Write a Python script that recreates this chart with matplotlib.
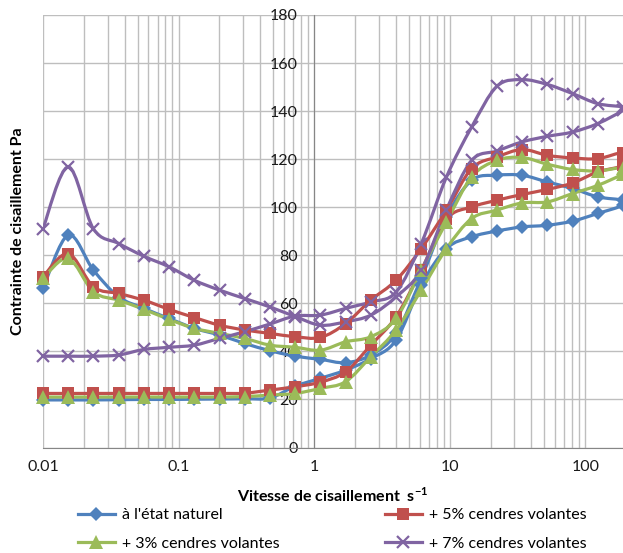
import numpy as np
import matplotlib
matplotlib.use('Agg')
import matplotlib.pyplot as plt
from matplotlib.path import Path
from matplotlib.patches import PathPatch
from matplotlib.lines import Line2D
from matplotlib.ticker import LogLocator, NullFormatter

plt.rcParams['font.family'] = ['Lato', 'DejaVu Sans']

# shear rates (s-1), same for the rising and falling branch
shear = [0.01, 0.01535, 0.02355, 0.03614, 0.05546, 0.0851, 0.1306, 0.2004,
         0.3076, 0.472, 0.7244, 1.112, 1.706, 2.618, 4.018, 6.166, 9.462,
         14.52, 22.28, 34.2, 52.48, 80.54, 123.6, 189.7]

# each series is a loop: branch a (left start high) then branch b (left start low)
blue_a = [66.2, 88.4, 73.8, 62.7, 57.9, 53.7, 49.6, 46.8, 43.3, 40.3, 38.0, 36.7,
          35.3, 38.5, 47.5, 70.4, 96.0, 111.2, 113.3, 113.3, 110.5, 107.8, 104.3, 102.9]
blue_b = [19.8, 19.8, 19.8, 19.9, 20.0, 20.0, 20.1, 20.2, 20.3, 20.6, 25.5, 28.8,
          32.2, 37.0, 44.7, 67.6, 82.8, 87.7, 90.1, 91.8, 92.5, 94.2, 97.4, 100.8]

red_a = [71.0, 80.7, 66.9, 64.1, 61.3, 57.5, 54.1, 50.9, 48.9, 47.5, 46.1, 45.8,
         51.6, 61.3, 69.6, 82.8, 98.8, 116.1, 120.9, 124.0, 121.6, 120.5, 120.2, 122.6]
red_b = [22.5, 22.5, 22.5, 22.5, 22.5, 22.5, 22.5, 22.5, 22.6, 23.9, 25.3, 27.2,
         31.5, 42.6, 54.4, 73.8, 95.0, 100.1, 102.9, 105.3, 107.4, 110.1, 114.7, 117.5]

green_a = [70.4, 78.7, 64.8, 61.3, 57.5, 53.3, 49.6, 47.5, 45.4, 42.6, 41.7, 40.5,
           44.0, 46.1, 53.7, 73.8, 93.9, 112.6, 119.5, 120.7, 117.9, 115.7, 115.1, 116.5]
green_b = [21.0, 21.0, 21.0, 21.0, 21.0, 21.0, 21.0, 21.0, 21.2, 21.8, 22.5, 24.6,
           27.4, 37.8, 48.9, 65.5, 82.8, 95.3, 98.8, 101.8, 102.2, 105.7, 109.1, 114.0]

purple_a = [91.1, 116.8, 91.0, 84.9, 79.6, 75.2, 69.6, 65.5, 62.0, 58.5, 54.5, 50.9,
            52.3, 55.1, 62.7, 73.8, 99.0, 119.5, 123.4, 127.2, 129.5, 131.3, 134.8, 140.3]
purple_b = [38.0, 38.0, 38.0, 38.5, 40.8, 41.7, 42.6, 45.4, 48.2, 51.4, 54.7, 55.1,
            57.9, 60.6, 64.7, 84.9, 112.6, 133.4, 150.3, 153.1, 151.1, 147.3, 143.1, 141.7]

labels = ["à l'état naturel", '+ 5% cendres volantes',
          '+ 3% cendres volantes', '+ 7% cendres volantes']


def smooth_path(x, y):
    # Excel-like smoothed line: cubic Bezier between points, in log-x space
    u = np.log10(np.asarray(x, float))
    v = np.asarray(y, float)
    n = len(u)
    verts = [(u[0], v[0])]
    codes = [Path.MOVETO]
    for i in range(n - 1):
        p0 = max(i - 1, 0)
        p3 = min(i + 2, n - 1)
        c1 = (u[i] + (u[i + 1] - u[p0]) / 6, v[i] + (v[i + 1] - v[p0]) / 6)
        c2 = (u[i + 1] - (u[p3] - u[i]) / 6, v[i + 1] - (v[p3] - v[i]) / 6)
        verts += [c1, c2, (u[i + 1], v[i + 1])]
        codes += [Path.CURVE4] * 3
    verts = np.array(verts)
    verts[:, 0] = 10 ** verts[:, 0]
    return Path(verts, codes)


fig = plt.figure(figsize=(6.23, 5.53), dpi=100)
ax = fig.add_axes([43 / 623, 105.5 / 553, 580 / 623, 432.5 / 553])

series = [
    (blue_a, blue_b, '#4F81BD', 'D', 7),
    (red_a, red_b, '#C0504D', 's', 8.5),
    (green_a, green_b, '#9BBB59', '^', 9.5),
    (purple_a, purple_b, '#8064A2', 'x', 9),
]

handles = []
for (ya, yb, col, mk, ms), lab in zip(series, labels):
    xs = shear + shear[::-1]
    ys = ya + yb[::-1]
    patch = PathPatch(smooth_path(xs, ys), facecolor='none', edgecolor=col,
                      lw=2.3, transform=ax.transData, zorder=3,
                      capstyle='round', joinstyle='round')
    ax.add_patch(patch)
    mew = 1.6 if mk == 'x' else 0
    for yy in (ya, yb):
        ax.plot(shear, yy, ls='none', marker=mk, ms=ms, color=col,
                mec=col, mew=mew, zorder=4, clip_on=False)
    handles.append(Line2D([], [], color=col, lw=2.3, marker=mk, ms=ms,
                          mec=col, mew=mew))

ax.set_xscale('log')
ax.set_xlim(0.01, 189.7)
ax.set_ylim(0, 180)

ax.set_xticks([0.01, 0.1, 1, 10, 100], labels=['0.01', '0.1', '1', '10', '100'])
ax.xaxis.set_minor_locator(LogLocator(base=10, subs=np.arange(2, 10)))
ax.xaxis.set_minor_formatter(NullFormatter())
ax.set_yticks(np.arange(0, 181, 20))

ax.grid(True, which='both', axis='x', color='#BEBEBE', lw=1)
ax.grid(True, which='major', axis='y', color='#BEBEBE', lw=1)
ax.set_axisbelow(True)

for s in ['top', 'right']:
    ax.spines[s].set_visible(False)
ax.spines['left'].set_position(('data', 1))
ax.spines['left'].set_color('#868686')
ax.spines['bottom'].set_color('#868686')
ax.tick_params(axis='both', which='both', length=0, labelsize=11.5, colors='#1A1A1A')
ax.tick_params(axis='x', pad=9)
ax.tick_params(axis='y', pad=12)

fig.text(333 / 623, 1 - 495 / 553, 'Vitesse de cisaillement  s$^{\\mathregular{-1}}$',
         ha='center', va='center', fontsize=11.5, fontweight='bold')
fig.text(18 / 623, 1 - 231 / 553, 'Contrainte de cisaillement Pa', rotation=90,
         ha='center', va='center', fontsize=11.5, fontweight='bold')

# legend fills column by column: naturel / 3% left, 5% / 7% right
order = [0, 2, 1, 3]
fig.legend([handles[i] for i in order], [labels[i] for i in order], ncol=2,
           loc='upper left', bbox_to_anchor=(78 / 623, 1 - 508 / 553),
           frameon=False, fontsize=11.5, numpoints=1, handlelength=2.3,
           handletextpad=0.45, columnspacing=6.6, labelspacing=0.9,
           borderpad=0, borderaxespad=0)

fig.savefig('out.png', dpi=100)
